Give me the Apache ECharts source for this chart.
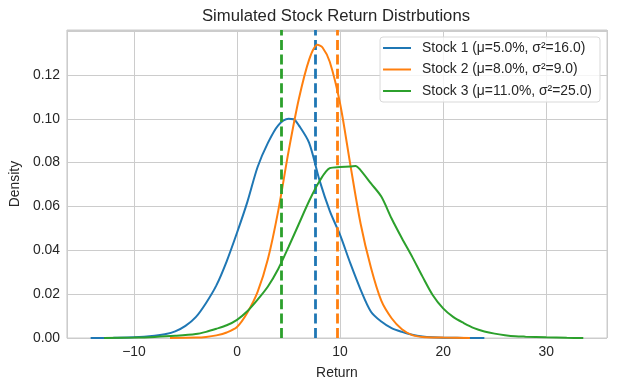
<!DOCTYPE html>
<html><head><meta charset="utf-8">
<script src="https://cdn.jsdelivr.net/npm/echarts@6/dist/echarts.min.js"></script>
<style>html,body{margin:0;padding:0;background:#fff}#c{width:617px;height:387px}</style>
</head><body><div id="c"></div><script>
const titleText = 'Simulated Stock Return Distrbutions';
const seriesNames = ['Stock 1 (μ=5.0%, σ²=16.0)', 'Stock 2 (μ=8.0%, σ²=9.0)', 'Stock 3 (μ=11.0%, σ²=25.0)'];
const colors = ['#1f77b4', '#ff7f0e', '#2ca02c'];

const stock1X = [-14.2,-12,-10,-8,-7,-6,-5,-4,-3,-2,-1,0,1,2,3,4,5,5.5,6,7,8,9,10,11,12,13,14,15,16,17,18,19,20,22,24.0];
const stock1Y = [0,0.0001,0.0003,0.001,0.0017,0.003,0.0055,0.0095,0.016,0.024,0.035,0.048,0.062,0.078,0.089,0.097,0.1,0.0998,0.097,0.089,0.072,0.058,0.047,0.034,0.022,0.012,0.0075,0.0045,0.0028,0.0015,0.0007,0.0003,0.0001,0.00005,0];

const stock2X = [-6.5,-4,-3,-2,-1,0,1,2,3,4,5,6,7,7.8,8.3,9,10,11,12,13,14,15,16,17,18,20,22.6];
const stock2Y = [0,0.0002,0.0005,0.0012,0.0025,0.005,0.0115,0.021,0.036,0.058,0.085,0.109,0.127,0.1338,0.1325,0.126,0.107,0.079,0.052,0.032,0.017,0.009,0.004,0.0013,0.0005,0.0002,0];

const stock3X = [-12.9,-10,-8,-6,-4,-3,-2,-1,0,1,2,3,4,5,6,7,8,9,10,11,11.5,12,13,14,15,16,17,18,19,20,21,22,23,24,25,26,27,28,30,32,33.6];
const stock3Y = [0,0.0002,0.0005,0.001,0.0018,0.0028,0.0042,0.0058,0.0083,0.0122,0.0175,0.0235,0.0315,0.0415,0.052,0.0625,0.0715,0.0775,0.078,0.0782,0.0785,0.0765,0.0705,0.0645,0.0545,0.0455,0.037,0.028,0.0195,0.0135,0.0095,0.0068,0.0045,0.003,0.002,0.0013,0.0008,0.0006,0.0003,0.0001,0];

const meanLines = [7.6, 9.75, 4.31];
const xTickValues = [-10, 0, 10, 20, 30];
const yTickValues = [0, 0.02, 0.04, 0.06, 0.08, 0.10, 0.12];

const FONT = '"Liberation Sans", Arial, sans-serif';
const TXT = '#262626';
const xs = [stock1X, stock2X, stock3X];
const ys = [stock1Y, stock2Y, stock3Y];

const chart = echarts.init(document.getElementById('c'));
chart.setOption({
  animation: false,
  backgroundColor: '#ffffff',
  title: {
    text: titleText, left: 336, top: 8, textAlign: 'center', padding: 0,
    textStyle: { fontFamily: FONT, fontSize: 16.7, fontWeight: 'normal', color: TXT }
  },
  grid: { left: 65, right: 10, top: 30, bottom: 49, show: true, borderColor: '#cccccc', borderWidth: 1, containLabel: false },
  legend: {
    orient: 'vertical', right: 17, top: 37,
    padding: [4, 8, 4, 3], itemGap: 7.5, itemWidth: 28, itemHeight: 14,
    icon: 'path://M0,6 L28,6 L28,8 L0,8 Z',
    backgroundColor: 'rgba(255,255,255,0.8)', borderColor: '#d9d9d9', borderWidth: 1, borderRadius: 3,
    textStyle: { fontFamily: FONT, fontSize: 13.9, lineHeight: 14, color: TXT, padding: [0, 0, 0, 6] },
    data: seriesNames.map((n, i) => ({ name: n, itemStyle: { color: colors[i] } }))
  },
  xAxis: {
    type: 'value', min: -16.5, max: 35.9, splitNumber: 5,
    name: 'Return', nameLocation: 'middle', nameGap: 28,
    nameTextStyle: { fontFamily: FONT, fontSize: 13.9, color: TXT },
    axisLine: { show: false }, axisTick: { show: false },
    splitLine: { show: true, lineStyle: { color: '#cccccc', width: 1 } },
    axisLabel: {
      showMinLabel: false, showMaxLabel: false, margin: 7,
      fontFamily: FONT, fontSize: 13.9, color: TXT,
      formatter: v => xTickValues.indexOf(Math.round(v)) >= 0 && Math.abs(v - Math.round(v)) < 1e-6 ? (v < 0 ? '\u2212' + Math.abs(v) : String(v)) : ''
    }
  },
  yAxis: {
    type: 'value', min: 0, max: 0.1405, interval: 0.02,
    name: 'Density', nameLocation: 'middle', nameGap: 41,
    nameTextStyle: { fontFamily: FONT, fontSize: 13.9, color: TXT },
    axisLine: { show: false }, axisTick: { show: false },
    splitLine: { show: true, lineStyle: { color: '#cccccc', width: 1 } },
    axisLabel: {
      showMaxLabel: false, margin: 7,
      fontFamily: FONT, fontSize: 13.9, color: TXT,
      formatter: v => yTickValues.some(t => Math.abs(t - v) < 1e-6) ? v.toFixed(2) : ''
    }
  },
  series: seriesNames.map((name, i) => ({
    name: name, type: 'line', symbol: 'none', smooth: 0.3,
    z: 2 + i * 2,
    color: colors[i],
    lineStyle: { color: colors[i], width: 2 },
    emphasis: { disabled: true },
    data: xs[i].map((x, k) => [x, ys[i][k]]),
    markLine: {
      silent: true, symbol: ['none', 'none'], label: { show: false }, z: 3 + i * 2,
      lineStyle: { color: colors[i], width: 2.8, type: [10, 4.4], opacity: 1 },
      emphasis: { disabled: true },
      data: [{ xAxis: meanLines[i] }]
    }
  }))
});
</script></body></html>
